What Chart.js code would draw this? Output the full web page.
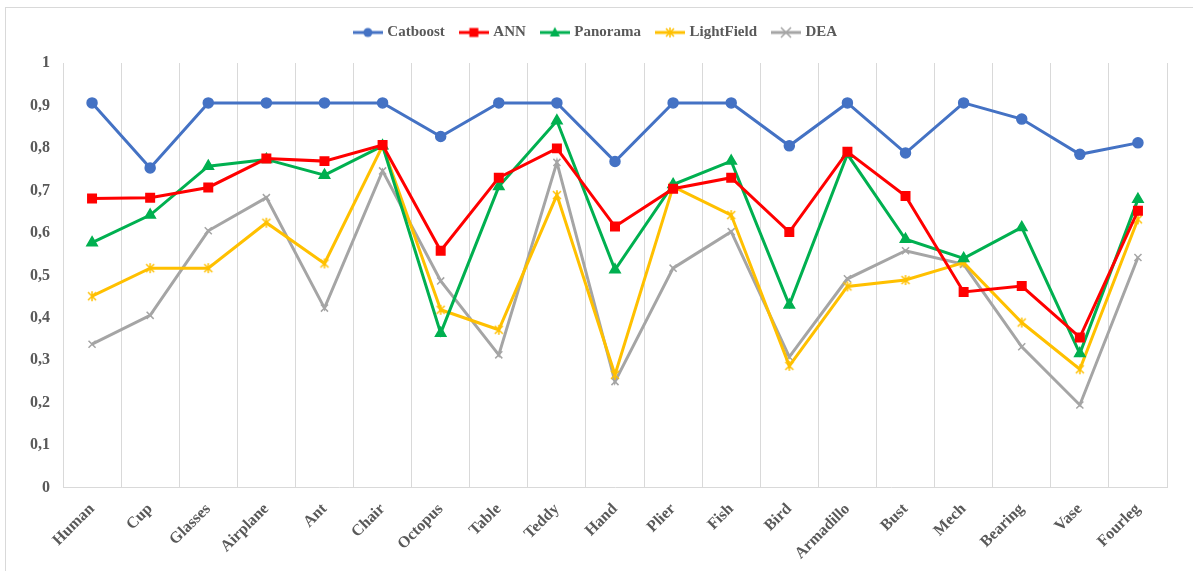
<!DOCTYPE html>
<html>
<head>
<meta charset="utf-8">
<script src="https://cdn.jsdelivr.net/npm/chart.js@4.4.1/dist/chart.umd.min.js"></script>
<style>
  html, body { margin: 0; padding: 0; background: #fff; overflow: hidden; }
  #wrap { position: relative; width: 1193px; height: 571px; overflow: hidden; }
  #frame { position: absolute; left: 5px; top: 7px; width: 1300px; height: 700px; border-left: 1px solid #d9d9d9; border-top: 1px solid #d9d9d9; }
  #chart { position: absolute; left: 0; top: 0; }
</style>
</head>
<body>
<div id="wrap">
  <div id="frame"></div>
  <canvas id="chart" width="1193" height="571"></canvas>
</div>
<script>
var categories = [
  "Human", "Cup", "Glasses", "Airplane", "Ant", "Chair", "Octopus", "Table",
  "Teddy", "Hand", "Plier", "Fish", "Bird", "Armadillo", "Bust", "Mech",
  "Bearing", "Vase", "Fourleg",
];

var catboost_values = [
  0.906, 0.753, 0.906, 0.906, 0.906, 0.906, 0.827, 0.906, 0.906, 0.768,
  0.906, 0.906, 0.805, 0.906, 0.788, 0.906, 0.868, 0.785, 0.812,
];

var ann_values = [
  0.681, 0.683, 0.707, 0.775, 0.769, 0.807, 0.558, 0.73, 0.799, 0.615,
  0.704, 0.73, 0.602, 0.791, 0.687, 0.461, 0.475, 0.354, 0.652,
];

var panorama_values = [
  0.577, 0.642, 0.757, 0.773, 0.736, 0.805, 0.364, 0.709, 0.864, 0.513,
  0.714, 0.769, 0.43, 0.785, 0.585, 0.54, 0.613, 0.316, 0.679,
];

var lightfield_values = [
  0.451, 0.517, 0.517, 0.624, 0.528, 0.805, 0.419, 0.372, 0.689, 0.266,
  0.709, 0.642, 0.287, 0.474, 0.489, 0.53, 0.389, 0.279, 0.632,
];

var dea_values = [
  0.338, 0.406, 0.605, 0.683, 0.423, 0.746, 0.487, 0.313, 0.766, 0.25,
  0.517, 0.603, 0.308, 0.492, 0.558, 0.526, 0.332, 0.195, 0.542,
];

var FONT = "'Liberation Serif', 'Times New Roman', serif";
var TEXT = "#595959";
var GRID = "#d9d9d9";

// asterisk marker: an x with a vertical bar through it
function starMarker(color) {
  var c = document.createElement("canvas");
  c.width = 12;
  c.height = 12;
  var g = c.getContext("2d");
  g.strokeStyle = color;
  g.lineWidth = 1.5;
  g.beginPath();
  g.moveTo(2, 2); g.lineTo(10, 10);
  g.moveTo(10, 2); g.lineTo(2, 10);
  g.moveTo(6, 1); g.lineTo(6, 11);
  g.stroke();
  return c;
}

function drawMarker(g, style, x, y, color) {
  g.fillStyle = color;
  g.strokeStyle = color;
  g.beginPath();
  if (style === "circle") {
    g.arc(x, y, 4.5, 0, Math.PI * 2);
    g.fill();
  } else if (style === "rect") {
    g.fillRect(x - 4.5, y - 4.5, 9, 9);
  } else if (style === "triangle") {
    g.moveTo(x, y - 5.5);
    g.lineTo(x + 5, y + 4);
    g.lineTo(x - 5, y + 4);
    g.closePath();
    g.fill();
  } else if (style === "crossRot") {
    g.lineWidth = 1.5;
    g.moveTo(x - 5, y - 5); g.lineTo(x + 5, y + 5);
    g.moveTo(x + 5, y - 5); g.lineTo(x - 5, y + 5);
    g.stroke();
  } else {
    g.drawImage(style, x - 6, y - 6);
  }
}

// small line + marker swatch for the legend
function legendSwatch(style, color) {
  var c = document.createElement("canvas");
  c.width = 30;
  c.height = 14;
  var g = c.getContext("2d");
  g.strokeStyle = color;
  g.lineWidth = 3;
  g.beginPath();
  g.moveTo(0, 7);
  g.lineTo(30, 7);
  g.stroke();
  drawMarker(g, style, 15, 7, color);
  return c;
}

function series(label, data, color, style, radius) {
  return {
    label: label,
    data: data,
    borderColor: color,
    backgroundColor: color,
    borderWidth: 3,
    pointStyle: style,
    pointRadius: radius,
    pointBorderWidth: 1.5,
    pointBackgroundColor: color,
    pointBorderColor: color,
    swatch: legendSwatch(style, color),
    tension: 0,
  };
}

// extra room between the legend and the plot
var legendGap = {
  id: "legendGap",
  beforeInit: function (chart) {
    var fit = chart.legend.fit;
    chart.legend.fit = function () {
      fit.bind(chart.legend)();
      this.height += 13;
    };
  },
};

var ctx = document.getElementById("chart");

var chart = new Chart(ctx, {
  type: "line",
  data: {
    labels: categories,
    datasets: [
      series("Catboost", catboost_values, "#4472c4", "circle", 5),
      series("ANN", ann_values, "#ff0000", "rect", 6),
      series("Panorama", panorama_values, "#00b050", "triangle", 6),
      series("LightField", lightfield_values, "#ffc000", starMarker("#ffc000"), 6),
      series("DEA", dea_values, "#a5a5a5", "crossRot", 5),
    ],
  },
  plugins: [legendGap],
  options: {
    responsive: false,
    animation: false,
    layout: {
      padding: { left: 26, right: 26, top: 8, bottom: 4 },
    },
    plugins: {
      tooltip: { enabled: false },
      legend: {
        position: "top",
        labels: {
          usePointStyle: true,
          pointStyleWidth: 24,
          padding: 17,
          color: TEXT,
          font: { family: FONT, size: 15, weight: "bold" },
          generateLabels: function (c) {
            return c.data.datasets.map(function (ds, i) {
              return {
                text: ds.label,
                pointStyle: ds.swatch,
                fillStyle: ds.borderColor,
                strokeStyle: ds.borderColor,
                lineWidth: 0,
                fontColor: TEXT,
                datasetIndex: i,
                hidden: false,
              };
            });
          },
        },
      },
    },
    scales: {
      x: {
        offset: true,
        grid: { offset: true, color: GRID, lineWidth: 1, drawTicks: false },
        border: { color: GRID },
        afterFit: function (scale) {
          scale.height -= 8;
        },
        ticks: {
          color: TEXT,
          font: { family: FONT, size: 16, weight: "bold" },
          minRotation: 45,
          maxRotation: 45,
          padding: 12,
        },
      },
      y: {
        min: 0,
        max: 1,
        grid: { display: false, drawTicks: false },
        border: { display: false },
        afterFit: function (scale) {
          scale.width = 37;
        },
        ticks: {
          stepSize: 0.1,
          padding: 13,
          color: TEXT,
          font: { family: FONT, size: 16, weight: "bold" },
          callback: function (v) {
            return String(Math.round(v * 10) / 10).replace(".", ",");
          },
        },
      },
    },
  },
});
</script>
</body>
</html>
